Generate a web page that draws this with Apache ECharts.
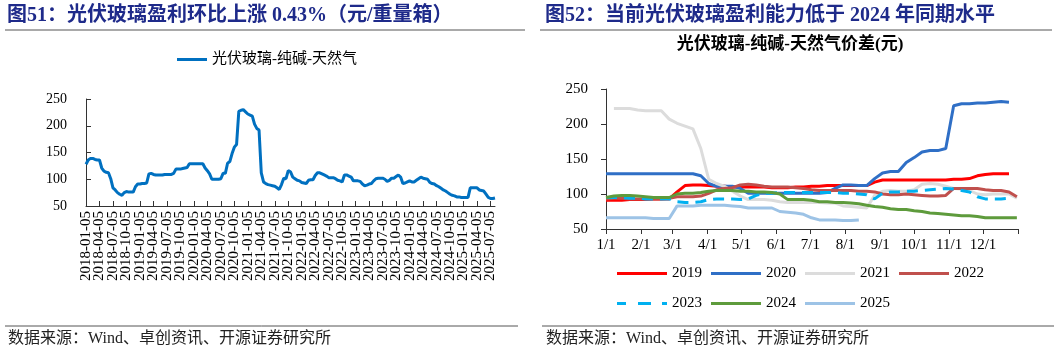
<!DOCTYPE html>
<html>
<head>
<meta charset="utf-8">
<script src="https://cdn.jsdelivr.net/npm/echarts@6/dist/echarts.min.js"></script>
<style>
  body { margin: 0; background: #fff; }
  #main { width: 1057px; height: 353px; }
</style>
</head>
<body>
<div id="main"></div>
<script>
// left chart: profit per weight case, semi-monthly readings from 2018-01-05
const profitDates = []
for (let y = 2018; y <= 2025; y++) {
  for (let m = 1; m <= 12; m++) {
    for (const d of ['05', '20']) {
      const s = y + '-' + String(m).padStart(2, '0') + '-' + d
      if (s <= '2025-08-05') profitDates.push(s)
    }
  }
}
const profit = [
  128, 136, 139, 139, 137, 136, 136, 121, 115, 113,
  112, 101, 84, 80, 75, 72, 70, 75, 77, 76,
  76, 76, 86, 91, 91, 92, 92, 93, 110, 111,
  109, 108, 108, 108, 108, 109, 109, 109, 109, 111,
  119, 119, 119, 120, 121, 122, 129, 129, 129, 129,
  129, 129, 129, 121, 116, 110, 100, 100, 100, 100,
  101, 111, 111, 130, 133, 148, 160, 165, 227, 229,
  230, 226, 222, 220, 218, 203, 195, 192, 112, 95,
  92, 90, 89, 88, 87, 84, 81, 90, 102, 101,
  116, 114, 104, 101, 98, 97, 94, 93, 92, 98,
  99, 99, 107, 112, 112, 110, 108, 106, 103, 103,
  103, 101, 98, 97, 95, 108, 108, 106, 104, 97,
  97, 97, 96, 91, 88, 89, 91, 92, 97, 101,
  102, 102, 102, 100, 96, 98, 102, 102, 105, 108,
  104, 92, 93, 95, 97, 95, 95, 98, 101, 104,
  102, 101, 100, 94, 92, 91, 88, 86, 83, 80,
  78, 75, 72, 70, 69, 67, 67, 66, 66, 66,
  66, 84, 84, 84, 84, 80, 79, 78, 72, 66,
  64, 64, 65
]

// right chart: weekly readings by day of year
const days = Array.from({ length: 53 }, (_, i) => i * 7)
const monthStarts = [0, 31, 59, 90, 120, 151, 181, 212, 243, 273, 304, 334]
const monthLabels = ['1/1', '2/1', '3/1', '4/1', '5/1', '6/1', '7/1', '8/1', '9/1', '10/1', '11/1', '12/1']

const y2019 = [91, 91, 91, 92, 92, 92, 93, 93, 93, 103,
  112, 113, 113, 112, 111, 111, 110, 110, 110, 110,
  110, 109, 109, 109, 110, 110, 111, 111, 112, 112,
  112, 112, 112, 112, 117, 120, 120, 120, 120, 120,
  120, 120, 120, 120, 121, 121, 122, 126, 128, 129,
  129, 129, null]
const y2020 = [129, 129, 129, 129, 129, 129, 129, 129, 129, 129,
  129, 129, 126, 115, 111, 111, 111, 108, 101, 101,
  101, 101, 101, 101, 101, 101, 101, 101, 102, 108,
  113, 113, 112, 112, 122, 130, 132, 132, 145, 152,
  160, 162, 162, 165, 226, 229, 229, 230, 230, 231,
  232, 231, null]
const y2021 = [null, 222, 222, 222, 220, 219, 219, 219, 207, 201,
  197, 193, 165, 121, 115, 111, 104, 97, 92, 92,
  92, 91, 89, 88, 88, 88, 88, 88, 87, 87,
  83, 82, 81, 80, 98, 104, 105, 104, 104, 106,
  114, 115, 114, 111, 108, 107, 105, 100, 99, 100,
  100, 100, 94]
const y2022 = [93, 94, 94, 93, 93, 93, 93, 93, 94, 96,
  96, 96, 97, 101, 106, 108, 109, 113, 114, 113,
  111, 110, 110, 110, 109, 108, 106, 105, 105, 105,
  105, 105, 104, 104, 103, 100, 99, 99, 100, 99,
  98, 97, 97, 98, 108, 108, 108, 108, 106, 105,
  105, 103, 96]
const y2023 = [95, 95, 95, 94, 94, 93, 93, 93, 93, 89,
  88, 88, 89, 92, 93, 93, 93, 92, 93, 98,
  101, 101, 102, 102, 102, 102, 102, 102, 102, 102,
  101, 101, 100, 99, 93, 101, 103, 103, 104, 104,
  105, 106, 107, 108, 107, 105, 103, 96, 93, 93,
  93, 94, null]
const y2024 = [95, 97, 98, 98, 97, 96, 95, 95, 95, 100,
  101, 101, 102, 104, 105, 105, 105, 104, 104, 103,
  103, 102, 100, 92, 92, 92, 91, 89, 89, 88,
  88, 87, 86, 84, 82, 81, 79, 78, 78, 76,
  75, 73, 72, 71, 70, 69, 69, 68, 66, 66,
  66, 66, 66]
const y2025 = [66, 66, 66, 66, 66, 66, 65, 65, 65, 83,
  83, 83, 84, 84, 84, 84, 83, 82, 80, 80,
  80, 80, 75, 74, 73, 71, 66, 63, 63, 63,
  62, 62, 63, null, null, null, null, null, null, null,
  null, null, null, null, null, null, null, null, null, null,
  null, null, null]

const serif = '"Liberation Serif", "Noto Sans CJK SC", serif'
const navy = '#1e2a8a'
const lineIcon = 'path://M0,0h50v3h-50z'
const dashIcon = 'path://M0,0h9v3h-9z M21,0h13v3h-13z M45,0h5v3h-5z'

function pairs (vals) {
  return days.map((d, i) => [d, vals[i]])
}

function yearSeries (name, vals, color, dashed) {
  return {
    name: name,
    type: 'line',
    xAxisIndex: 1,
    yAxisIndex: 1,
    data: pairs(vals),
    symbol: 'none',
    connectNulls: false,
    lineStyle: { color: color, width: 3, type: dashed ? [11, 7] : 'solid' },
    itemStyle: { color: color }
  }
}

function isQuarterLabel (idx, val) {
  const mm = val.slice(5, 7)
  return val.endsWith('-05') && ['01', '04', '07', '10'].includes(mm)
}
// blank spacer labels next to the first and last quarter labels,
// so the min/max overlap check drops a blank instead of a date
const spacerIdx = [1, profitDates.length - 4]
function showDateLabel (idx, val) {
  return isQuarterLabel(idx, val) || spacerIdx.includes(idx)
}

const chart = echarts.init(document.getElementById('main'))

const legendText = { fontSize: 15, fontFamily: serif, color: '#000' }

const option = {
  animation: false,
  backgroundColor: '#fff',
  textStyle: { fontFamily: serif },
  grid: [
    { left: 86, top: 99, width: 409, height: 107 },
    { left: 606, top: 89, width: 412, height: 140 }
  ],
  legend: [
    {
      data: [{ name: '光伏玻璃-纯碱-天然气', icon: 'path://M0,0h30v3h-30z' }],
      left: 172,
      top: 47,
      itemWidth: 30,
      itemHeight: 14,
      textStyle: legendText
    },
    {
      data: ['2019', '2020', '2021', '2022'].map(n => ({ name: n, icon: lineIcon })),
      left: 612,
      top: 261,
      itemWidth: 50,
      itemHeight: 14,
      itemGap: 9,
      textStyle: legendText
    },
    {
      data: [
        { name: '2023', icon: dashIcon },
        { name: '2024', icon: lineIcon },
        { name: '2025', icon: lineIcon }
      ],
      left: 612,
      top: 291,
      itemWidth: 50,
      itemHeight: 14,
      itemGap: 9,
      textStyle: legendText
    }
  ],
  xAxis: [
    {
      gridIndex: 0,
      type: 'category',
      data: profitDates,
      boundaryGap: false,
      axisLine: { lineStyle: { color: '#333' } },
      axisTick: { inside: true, length: 5, interval: isQuarterLabel, lineStyle: { color: '#333' } },
      axisLabel: {
        interval: showDateLabel,
        formatter: function (v, idx) {
          return spacerIdx.includes(idx) ? '' : v
        },
        rotate: 90,
        margin: 5,
        hideOverlap: false,
        showMinLabel: true,
        showMaxLabel: true,
        color: '#000',
        fontSize: 15,
        fontFamily: serif
      },
      splitLine: { show: false }
    },
    {
      gridIndex: 1,
      type: 'value',
      min: 0,
      max: 365,
      axisLine: { lineStyle: { color: '#333' } },
      axisTick: {
        show: true,
        length: 5,
        customValues: monthStarts.concat([365]),
        lineStyle: { color: '#333' }
      },
      axisLabel: {
        customValues: monthStarts,
        formatter: function (v) {
          const i = monthStarts.indexOf(v)
          return i >= 0 ? monthLabels[i] : ''
        },
        margin: 9,
        color: '#000',
        fontSize: 15,
        fontFamily: serif
      },
      splitLine: { show: false }
    }
  ],
  yAxis: [
    {
      gridIndex: 0,
      type: 'value',
      min: 50,
      max: 250,
      interval: 50,
      axisLine: { show: true, lineStyle: { color: '#333' } },
      axisTick: { show: true, inside: true, length: 5, lineStyle: { color: '#333' } },
      axisLabel: { color: '#000', fontSize: 14, fontFamily: serif, margin: 19 },
      splitLine: { show: false }
    },
    {
      gridIndex: 1,
      type: 'value',
      min: 50,
      max: 250,
      interval: 50,
      axisLine: { show: true, lineStyle: { color: '#333' } },
      axisTick: { show: true, length: 5, lineStyle: { color: '#333' } },
      axisLabel: { color: '#000', fontSize: 15, fontFamily: serif, margin: 18 },
      splitLine: { show: false }
    }
  ],
  series: [
    {
      name: '光伏玻璃-纯碱-天然气',
      type: 'line',
      xAxisIndex: 0,
      yAxisIndex: 0,
      data: profit,
      symbol: 'none',
      lineStyle: { color: '#0070C0', width: 3 },
      itemStyle: { color: '#0070C0' }
    },
    yearSeries('2019', y2019, '#ff0000'),
    yearSeries('2020', y2020, '#2f6fc6'),
    yearSeries('2021', y2021, '#dcdcdc'),
    yearSeries('2022', y2022, '#c0504d'),
    yearSeries('2023', y2023, '#00b0f0', true),
    yearSeries('2024', y2024, '#5e9b3c'),
    yearSeries('2025', y2025, '#9dc3e6')
  ],
  graphic: [
    {
      type: 'text', left: 7, top: 6,
      style: { text: '图51：光伏玻璃盈利环比上涨 0.43%（元/重量箱）', font: 'bold 20px ' + serif, fill: navy }
    },
    {
      type: 'text', left: 545, top: 6,
      style: { text: '图52：当前光伏玻璃盈利能力低于 2024 年同期水平', font: 'bold 20px ' + serif, fill: navy }
    },
    {
      type: 'line', shape: { x1: 5, y1: 30, x2: 525, y2: 30 },
      style: { stroke: '#555', lineWidth: 1 }
    },
    {
      type: 'line', shape: { x1: 540, y1: 30, x2: 1052, y2: 30 },
      style: { stroke: '#555', lineWidth: 1 }
    },
    {
      type: 'text', x: 790, y: 45,
      style: {
        text: '光伏玻璃-纯碱-天然气价差(元)',
        font: 'bold 17px ' + serif,
        fill: '#000',
        align: 'center',
        verticalAlign: 'middle'
      }
    },
    {
      type: 'line', shape: { x1: 5, y1: 326, x2: 518, y2: 326 },
      style: { stroke: '#555', lineWidth: 1 }
    },
    {
      type: 'line', shape: { x1: 542, y1: 326, x2: 1054, y2: 326 },
      style: { stroke: '#555', lineWidth: 1 }
    },
    {
      type: 'text', left: 8, top: 331,
      style: { text: '数据来源：Wind、卓创资讯、开源证券研究所', font: '16px ' + serif, fill: '#222' }
    },
    {
      type: 'text', left: 546, top: 331,
      style: { text: '数据来源：Wind、卓创资讯、开源证券研究所', font: '16px ' + serif, fill: '#222' }
    }
  ]
}

chart.setOption(option)
</script>
</body>
</html>
